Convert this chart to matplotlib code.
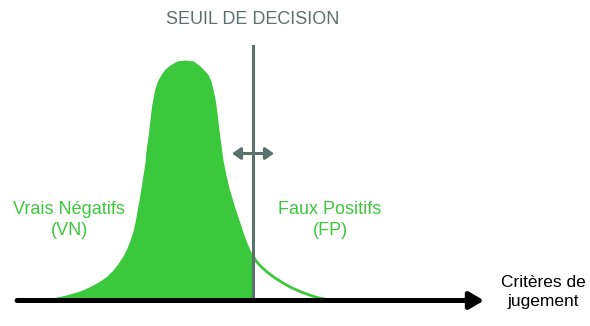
import matplotlib.pyplot as plt

# Distribution des scores (abscisse en px de la figure, hauteur au-dessus de l'axe)
score = [55, 66, 80, 90, 100, 107, 113, 118, 123, 127, 130, 133, 135, 137, 139,
         141, 143, 145, 146, 148, 149.3, 151.7, 155, 157.5, 160.7, 165, 170,
         176.7, 185, 193.3, 199, 204, 208.3, 211, 212.7, 214.5, 216, 217.3,
         219, 221, 223, 226, 229, 232, 235, 238, 241, 244, 247, 250, 253,
         256, 261, 267, 275, 283, 291, 300, 308, 317, 325]
ypix = [297.5, 295, 291, 286.5, 281, 276, 270, 263.5, 256, 248, 240, 231, 222, 211,
        200, 188, 175, 162, 150, 137, 125, 105, 88, 81, 75, 69, 65,
        61, 60, 61, 65, 70, 75, 81, 88, 96, 105, 115,
        130, 145, 160, 175, 188, 198, 208, 217, 226, 235, 243, 250, 256,
        261, 266.5, 272, 278, 283, 287.5, 291.5, 294.5, 297.5, 299]
base = 300.5
hauteur = [base - v for v in ypix]

seuil = 253
seuil_haut = 46

vert = '#3cc83c'
gris = '#5b716d'

plt.rcParams['font.family'] = ['Liberation Sans', 'DejaVu Sans']

fig = plt.figure(figsize=(5.9, 3.26), dpi=100)
ax = fig.add_axes([0, 0, 1, 1])
ax.set_xlim(0, 590)
ax.set_ylim(base - 326, base)
ax.axis('off')

# zone des vrais negatifs (remplie) et queue des faux positifs (contour)
gx = [x for x in score if x <= seuil]
gy = [h for x, h in zip(score, hauteur) if x <= seuil]
ax.fill_between(gx, 0, gy, color=vert, lw=0, zorder=2)
dx = [x for x in score if x >= seuil]
dy = [h for x, h in zip(score, hauteur) if x >= seuil]
ax.plot(dx, dy, color=vert, lw=2, solid_capstyle='butt', solid_joinstyle='round',
        zorder=2)

# seuil de decision
ax.plot([seuil, seuil], [0, base - seuil_haut], color=gris, lw=2.2, zorder=3)
ax.annotate('', xy=(232, base - 153.5), xytext=(274, base - 153.5),
            arrowprops=dict(arrowstyle='<|-|>,head_length=0.5,head_width=0.35',
                            color=gris, lw=2.2, shrinkA=0, shrinkB=0), zorder=4)

# axe des criteres
ax.annotate('', xy=(484, 0), xytext=(17, 0),
            arrowprops=dict(arrowstyle='-|>,head_length=0.85,head_width=0.5',
                            color='black', lw=3.6, shrinkA=0, shrinkB=0), zorder=5)

ax.text(253, base - 20, 'SEUIL DE DECISION', color=gris, fontsize=13,
        ha='center', va='center')
ax.text(69, base - 220, 'Vrais Négatifs\n(VN)', color=vert, fontsize=13,
        ha='center', va='center', linespacing=1.35)
ax.text(330, base - 220, 'Faux Positifs\n(FP)', color=vert, fontsize=13,
        ha='center', va='center', linespacing=1.35)
ax.text(543, base - 292, 'Critères de\njugement', color='black', fontsize=12.5,
        ha='center', va='center', linespacing=1.3)

fig.savefig('out.png', dpi=100)
